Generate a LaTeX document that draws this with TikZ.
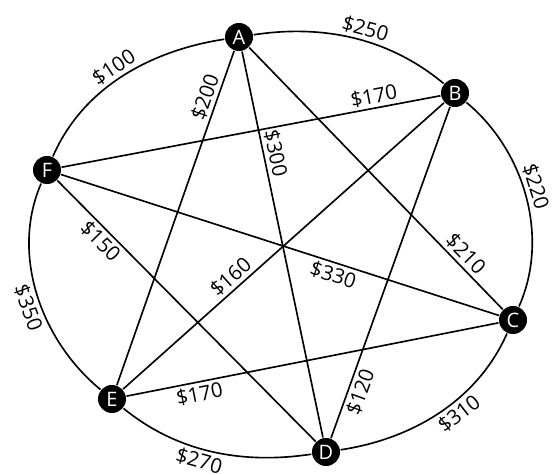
\documentclass[tikz,border=0pt]{standalone}
\usepackage{fontspec}
\setmainfont{Open Sans}

\begin{document}
\begin{tikzpicture}[x=0.03cm,y=0.03cm,line width=1.4pt,
  vertex/.style={circle,fill=black,text=white,inner sep=0pt,
    minimum size=0.84cm,font=\fontsize{17}{19}\selectfont},
  cost/.style={sloped,inner sep=2.5pt,font=\fontsize{17.5}{20}\selectfont},
  ring/.style={looseness=0.92}]
  \useasboundingbox (0,0) rectangle (554,475);

  \node[vertex] (A) at (239,438) {A};
  \node[vertex] (B) at (455,382) {B};
  \node[vertex] (C) at (513,155) {C};
  \node[vertex] (D) at (326,23)  {D};
  \node[vertex] (E) at (112,76)  {E};
  \node[vertex] (F) at (47,305)  {F};

  % outer ring
  \draw[ring] (A) to[out=8.8,in=140.2]    node[cost,above,pos=0.54] {\$250} (B);
  \draw[ring] (B) to[out=-39.8,in=66.1]   node[cost,above,pos=0.47] {\$220} (C);
  \draw[ring] (C) to[out=246.1,in=8.7]    node[cost,below,pos=0.43] {\$310} (D);
  \draw[ring] (D) to[out=188.7,in=-39.3]  node[cost,below,pos=0.55] {\$270} (E);
  \draw[ring] (E) to[out=140.7,in=246.6]  node[cost,below,pos=0.46] {\$350} (F);
  \draw[ring] (F) to[out=66.6,in=188.8]   node[cost,above,pos=0.49] {\$100} (A);

  % chords
  \draw (A) -- node[cost,above,pos=0.82] {\$210} (C);
  \draw (A) -- node[cost,above,pos=0.27] {\$300} (D);
  \draw (E) -- node[cost,above,pos=0.85] {\$200} (A);
  \draw (F) -- node[cost,above,pos=0.83] {\$170} (B);
  \draw (E) -- node[cost,above,pos=0.36] {\$160} (B);
  \draw (D) -- node[cost,below,pos=0.15] {\$120} (B);
  \draw (F) -- node[cost,below,pos=0.63] {\$330} (C);
  \draw (F) -- node[cost,below,pos=0.20] {\$150} (D);
  \draw (E) -- node[cost,below,pos=0.19] {\$170} (C);
\end{tikzpicture}
\end{document}
